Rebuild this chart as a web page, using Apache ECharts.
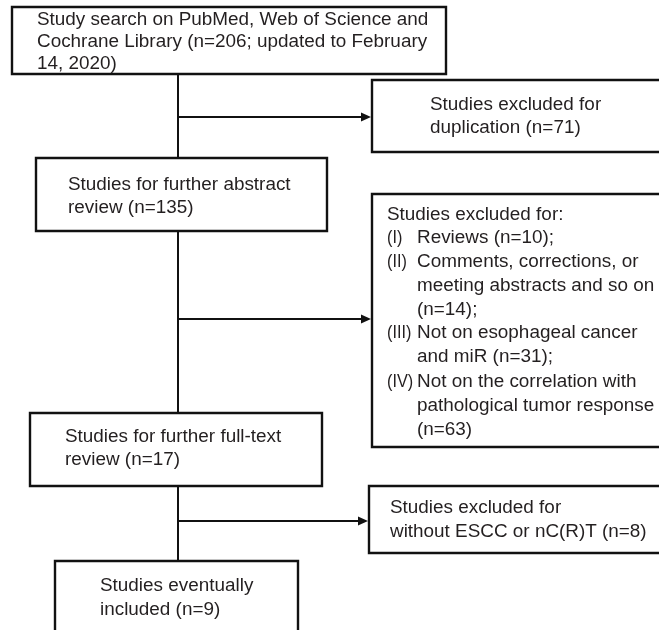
<!DOCTYPE html>
<html>
<head>
<meta charset="utf-8">
<script src="https://cdn.jsdelivr.net/npm/echarts@6/dist/echarts.min.js"></script>
<style>
html,body{margin:0;padding:0;background:#fff;}
#chart{width:659px;height:630px;}
</style>
</head>
<body>
<div id="chart"></div>
<script>
// ---- content ----
const mainSteps = [
  'Study search on PubMed, Web of Science and\nCochrane Library (n=206; updated to February\n14, 2020)',
  'Studies for further abstract\nreview (n=135)',
  'Studies for further full-text\nreview (n=17)',
  'Studies eventually\nincluded (n=9)'
];
const exclusionSteps = [
  'Studies excluded for\nduplication (n=71)',
  'Studies excluded for:',
  'Studies excluded for\nwithout ESCC or nC(R)T (n=8)'
];
const reasonLabels = ['(I)', '(II)', '(III)', '(IV)'];
const reasonTexts = [
  'Reviews (n=10);',
  'Comments, corrections, or\nmeeting abstracts and so on\n(n=14);',
  'Not on esophageal cancer\nand miR (n=31);',
  'Not on the correlation with\npathological tumor response\n(n=63)'
];

// ---- layout (page units) ----
const mainBoxes = [[12, 7, 446, 74], [36, 158, 327, 231], [30, 413, 322, 486], [55, 561, 298, 645]];
const mainTextPos = [[37, 20, 22], [68, 185, 23], [65, 437, 23], [100, 586, 24]];
const exclBoxes = [[372, 80, 700, 152], [372, 194, 700, 447], [369, 486, 700, 553]];
const exclTextPos = [[430, 105, 23], [387, 215, 24], [390, 508, 24]];
const reasonLabelX = 387, reasonTextX = 417;
const reasonY = [238, 262, 333, 382];
const reasonLH = 24;
const trunkX = 178;
const branchY = [117, 319, 521];
const branchEnd = [371, 371, 368];

const W = 659, H = 630;
const FONT = '"Liberation Sans", Arial, Helvetica, sans-serif';
const FS = 18.9;
const TEXT_COLOR = '#231f20';
const LINE_COLOR = '#111';

// build text items (sx = horizontal squeeze for the roman-numeral labels)
const textItems = [];
mainSteps.forEach((t, i) => textItems.push({ x: mainTextPos[i][0], y: mainTextPos[i][1], lh: mainTextPos[i][2], text: t, sx: 1 }));
exclusionSteps.forEach((t, i) => textItems.push({ x: exclTextPos[i][0], y: exclTextPos[i][1], lh: exclTextPos[i][2], text: t, sx: 1 }));
reasonLabels.forEach((t, i) => textItems.push({ x: reasonLabelX, y: reasonY[i], lh: reasonLH, text: t, sx: 0.86 }));
reasonTexts.forEach((t, i) => textItems.push({ x: reasonTextX, y: reasonY[i], lh: reasonLH, text: t, sx: 1 }));

const boxes = mainBoxes.concat(exclBoxes);

// connectors: vertical trunk segments + branches
const trunkSegs = [];
for (let i = 0; i < mainBoxes.length - 1; i++) {
  trunkSegs.push([trunkX, mainBoxes[i][3], trunkX, mainBoxes[i + 1][1]]);
}
const branchSegs = branchY.map((y, i) => [trunkX, y, branchEnd[i], y]);

const chart = echarts.init(document.getElementById('chart'), null, { renderer: 'canvas' });

const option = {
  animation: false,
  backgroundColor: '#fff',
  grid: { left: 0, right: 0, top: 0, bottom: 0 },
  xAxis: { type: 'value', min: 0, max: W, show: false },
  yAxis: { type: 'value', min: 0, max: H, inverse: true, show: false },
  series: [
    {
      type: 'custom',
      silent: true,
      data: trunkSegs,
      renderItem: function (params, api) {
        const p1 = api.coord([api.value(0), api.value(1)]);
        const p2 = api.coord([api.value(2), api.value(3)]);
        return { type: 'line', shape: { x1: p1[0], y1: p1[1], x2: p2[0], y2: p2[1] }, style: { stroke: LINE_COLOR, lineWidth: 2 } };
      }
    },
    {
      type: 'custom',
      silent: true,
      data: branchSegs,
      renderItem: function (params, api) {
        const p1 = api.coord([api.value(0), api.value(1)]);
        const p2 = api.coord([api.value(2), api.value(3)]);
        return {
          type: 'group',
          children: [
            { type: 'line', shape: { x1: p1[0], y1: p1[1], x2: p2[0] - 8, y2: p2[1] }, style: { stroke: LINE_COLOR, lineWidth: 2 } },
            { type: 'polygon', shape: { points: [[p2[0], p2[1]], [p2[0] - 10, p2[1] - 4.5], [p2[0] - 10, p2[1] + 4.5]] }, style: { fill: LINE_COLOR } }
          ]
        };
      }
    },
    {
      type: 'custom',
      silent: true,
      data: boxes,
      renderItem: function (params, api) {
        const p1 = api.coord([api.value(0), api.value(1)]);
        const p2 = api.coord([api.value(2), api.value(3)]);
        return {
          type: 'rect',
          shape: { x: p1[0], y: p1[1], width: p2[0] - p1[0], height: p2[1] - p1[1] },
          style: { fill: '#fff', stroke: LINE_COLOR, lineWidth: 2.4 }
        };
      }
    },
    {
      type: 'custom',
      silent: true,
      data: textItems.map(t => [t.x, t.y, t.lh]),
      renderItem: function (params, api) {
        const item = textItems[params.dataIndex];
        const lines = item.text.split('\n');
        const children = lines.map((ln, k) => {
          const p = api.coord([api.value(0), api.value(1) + k * api.value(2)]);
          return {
            type: 'text',
            x: p[0], y: p[1], scaleX: item.sx,
            style: { text: ln, x: 0, y: 0, fill: TEXT_COLOR, fontSize: FS, fontFamily: FONT, align: 'left', verticalAlign: 'middle' }
          };
        });
        return { type: 'group', children: children };
      }
    }
  ]
};
chart.setOption(option);
</script>
</body>
</html>
